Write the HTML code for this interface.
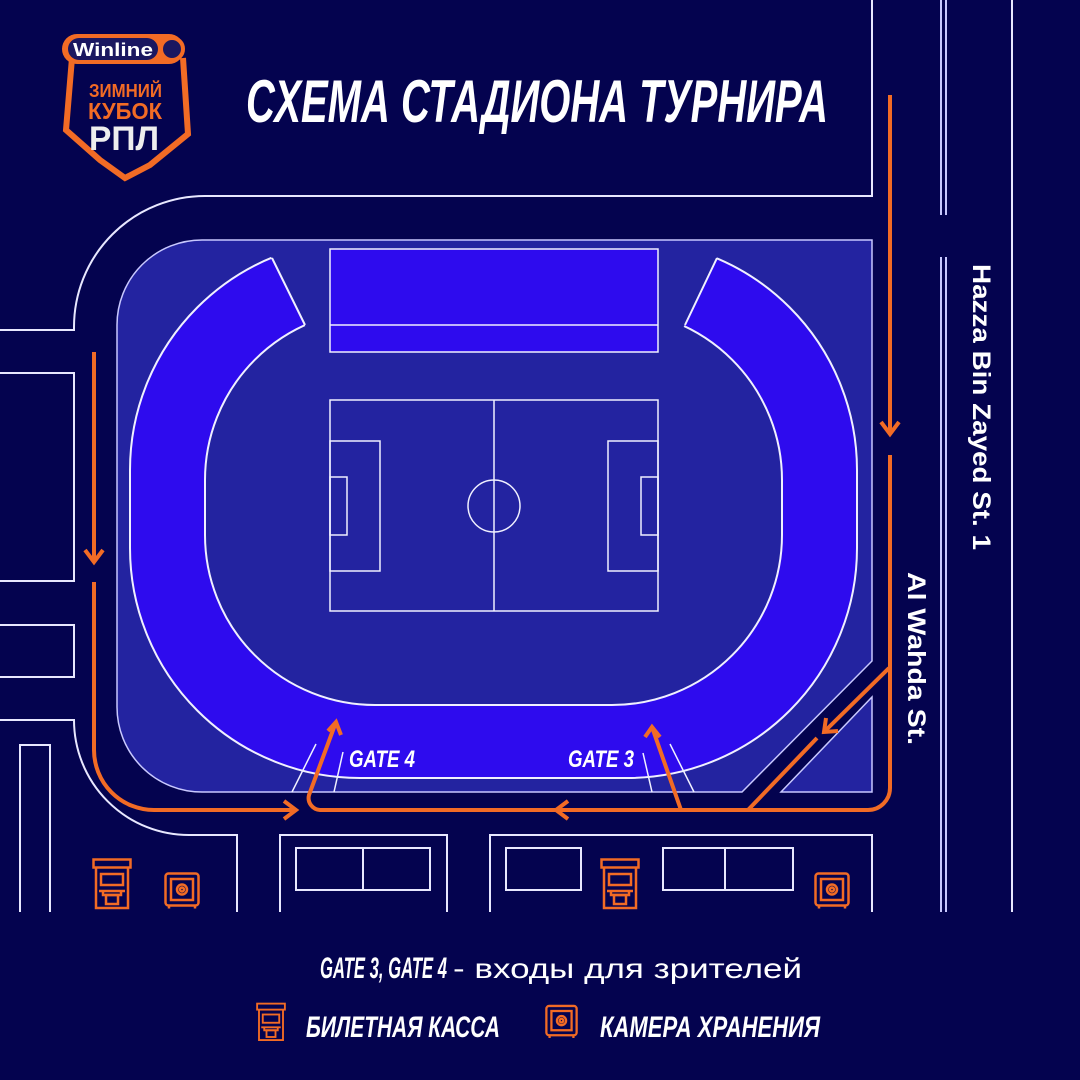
<!DOCTYPE html>
<html><head><meta charset="utf-8"><style>
html,body{margin:0;padding:0;background:#04034f;}
svg{display:block}
text{font-family:"Liberation Sans","DejaVu Sans",sans-serif;}
</style></head><body>
<svg width="1080" height="1080" viewBox="0 0 1080 1080" xmlns="http://www.w3.org/2000/svg">
<defs>
<symbol id="kiosk" viewBox="0 0 40 52">
<g fill="none" stroke="#f26b25" stroke-width="2.5">
<rect x="1.5" y="1.5" width="37" height="8"/>
<path d="M4 9.5 V50 H36 V9.5"/>
<rect x="9" y="16" width="22" height="11"/>
<path d="M7 33 H33 M11 33 V37 H29 V33"/>
<rect x="14" y="37" width="12" height="9"/>
</g></symbol>
<symbol id="safe" viewBox="0 0 36 38">
<g fill="none" stroke="#f26b25" stroke-width="2.5">
<rect x="1.5" y="1.5" width="33" height="32" rx="3"/>
<rect x="7" y="7" width="22" height="21"/>
<circle cx="18" cy="17.5" r="5"/>
<circle cx="18" cy="17.5" r="2"/>
<path d="M5 33.5 v3 M31 33.5 v3"/>
</g></symbol>
<clipPath id="standclip"><polygon points="0,200 243,200 332,380 658,380 745,200 1080,200 1080,1080 0,1080"/></clipPath>
</defs>
<rect width="1080" height="1080" fill="#04034f"/>

<!-- road outlines -->
<g fill="none" stroke="#e8e8ff" stroke-width="2">
<path d="M872 0 V196 H205 A131 131 0 0 0 74 327 V330 H0"/>
<path d="M0 373 H74 V581 H0"/>
<path d="M0 625 H74 V677 H0"/>
<path d="M0 720 H74 A115 115 0 0 0 189 835 H237 V912"/>
<path d="M20 912 V745 H50 V912"/>
<path d="M280 912 V835 H447 V912"/>
<rect x="296" y="848" width="134" height="42"/>
<path d="M363 848 V890"/>
<path d="M490 912 V835 H872 V912"/>
<rect x="506" y="848" width="75" height="42"/>
<rect x="663" y="848" width="130" height="42"/>
<path d="M725 848 V890"/>
<path d="M1012 0 V912"/>
</g>
<g stroke="#c8c8ff" stroke-width="2" fill="none">
<path d="M941 0 V215 M946 0 V215 M941 257 V912 M946 257 V912"/>
</g>

<!-- stadium pad -->
<path d="M117 325 A85 85 0 0 1 202 240 H872 V661 L742 792 H202 A85 85 0 0 1 117 707 Z" fill="#2323a0" stroke="#c8c8ff" stroke-width="1.5"/>
<path d="M872 697 V792 H781 Z" fill="#2323a0" stroke="#c8c8ff" stroke-width="1.5"/>

<!-- stands -->
<g clip-path="url(#standclip)">
<path fill-rule="evenodd" fill="#2e0bee" stroke="#f0f0ff" stroke-width="2"
d="M360 240 H627 A230 230 0 0 1 857 470 V548 A230 230 0 0 1 627 778 H360 A230 230 0 0 1 130 548 V470 A230 230 0 0 1 360 240 Z
M375 310 H612 A170 170 0 0 1 782 480 V535 A170 170 0 0 1 612 705 H375 A170 170 0 0 1 205 535 V480 A170 170 0 0 1 375 310 Z"/>
</g>
<g stroke="#f0f0ff" stroke-width="2"><path d="M272 258 L305 325 M717 258 L685 325"/></g>
<rect x="330" y="249" width="328" height="103" fill="#2e0bee" stroke="#f0f0ff" stroke-width="1.5"/>
<path d="M330 325 H658" stroke="#f0f0ff" stroke-width="1.5"/>

<!-- pitch -->
<g fill="none" stroke="#f0f0ff" stroke-width="1.5">
<rect x="330" y="400" width="328" height="211"/>
<path d="M494 400 V611"/>
<circle cx="494" cy="506" r="26"/>
<rect x="330" y="441" width="50" height="130"/>
<rect x="330" y="477" width="17" height="58"/>
<rect x="608" y="441" width="50" height="130"/>
<rect x="641" y="477" width="17" height="58"/>
</g>

<!-- gate lines -->
<g stroke="#f0f0ff" stroke-width="1.5">
<path d="M316 744 L292 792 M343 752 L334 792 M643 753 L652 792 M670 744 L694 792"/>
</g>

<!-- orange paths -->
<g fill="none" stroke="#f26b25" stroke-width="4" stroke-linecap="butt">
<path d="M890 95 V432"/>
<path d="M881 422 L890 434 L899 422"/>
<path d="M890 455 V788 A22 22 0 0 1 868 810 H320 A12 12 0 0 1 309 795 L336 722"/>
<path d="M328 731 L336 722 L341 735"/>
<path d="M568 801 L556 810 L568 819"/>
<path d="M94 352 V560"/>
<path d="M85 550 L94 562 L103 550"/>
<path d="M94 582 V750 A60 60 0 0 0 154 810 H294"/>
<path d="M284 801 L296 810 L284 819"/>
<path d="M681 810 L652 727"/>
<path d="M645 737 L652 727 L660 737"/>
<path d="M889 668 L826 730"/>
<path d="M826 718 L824 732 L838 731"/>
<path d="M817 738 L748 810"/>
</g>

<!-- gate labels -->
<g fill="#fff" font-weight="bold" font-style="italic">
<text x="349" y="767" font-size="24" textLength="66" lengthAdjust="spacingAndGlyphs">GATE 4</text>
<text x="568" y="767" font-size="24" textLength="66" lengthAdjust="spacingAndGlyphs">GATE 3</text>
</g>

<!-- street labels -->
<text transform="translate(973,264) rotate(90)" fill="#fff" font-weight="bold" font-size="25" textLength="286" lengthAdjust="spacingAndGlyphs">Hazza Bin Zayed St. 1</text>
<text transform="translate(908,572) rotate(90)" fill="#fff" font-weight="bold" font-size="25" textLength="173" lengthAdjust="spacingAndGlyphs">Al Wahda St.</text>

<!-- title -->
<text x="246" y="122" fill="#fff" font-weight="bold" font-style="italic" font-size="60" textLength="582" lengthAdjust="spacingAndGlyphs">СХЕМА СТАДИОНА ТУРНИРА</text>

<!-- logo -->
<g>
<path d="M72 58 L66 130 L100 160 L125 178 L150 165 L188 134 L183 58" fill="none" stroke="#f26b25" stroke-width="6" stroke-linejoin="miter"/>
<rect x="62" y="34" width="122" height="30" rx="15" fill="#f26b25"/>
<rect x="68" y="38" width="90" height="22" rx="11" fill="#1a1760"/>
<circle cx="172" cy="49" r="11" fill="#1a1760" stroke="#f26b25" stroke-width="4"/>
<text x="73" y="56" fill="#fff" font-weight="bold" font-size="18" textLength="80" lengthAdjust="spacingAndGlyphs">Winline</text>
<text x="89" y="97" fill="#f26b25" font-weight="bold" font-size="18" textLength="73" lengthAdjust="spacingAndGlyphs">ЗИМНИЙ</text>
<text x="88" y="119" fill="#f26b25" font-weight="bold" font-size="23" textLength="74" lengthAdjust="spacingAndGlyphs">КУБОК</text>
<text x="89" y="150" fill="#eeeeee" font-weight="bold" font-size="34" textLength="70" lengthAdjust="spacingAndGlyphs">РПЛ</text>
</g>

<!-- map icons -->
<use href="#kiosk" x="92" y="858" width="40" height="52"/>
<use href="#safe" x="164" y="872" width="36" height="38"/>
<use href="#kiosk" x="600" y="858" width="40" height="52"/>
<use href="#safe" x="814" y="872" width="36" height="38"/>

<!-- legend -->
<text x="320" y="978" fill="#fff" font-weight="bold" font-style="italic" font-size="30" textLength="127" lengthAdjust="spacingAndGlyphs">GATE 3, GATE 4</text>
<text x="453" y="978" fill="#fff" font-size="28" textLength="349" lengthAdjust="spacingAndGlyphs">- входы для зрителей</text>
<use href="#kiosk" x="256" y="1002" width="30" height="40"/>
<text x="306" y="1037" fill="#fff" font-weight="bold" font-style="italic" font-size="30" textLength="194" lengthAdjust="spacingAndGlyphs">БИЛЕТНАЯ КАССА</text>
<use href="#safe" x="545" y="1004" width="33" height="36"/>
<text x="600" y="1037" fill="#fff" font-weight="bold" font-style="italic" font-size="30" textLength="220" lengthAdjust="spacingAndGlyphs">КАМЕРА ХРАНЕНИЯ</text>
</svg>
</body></html>
